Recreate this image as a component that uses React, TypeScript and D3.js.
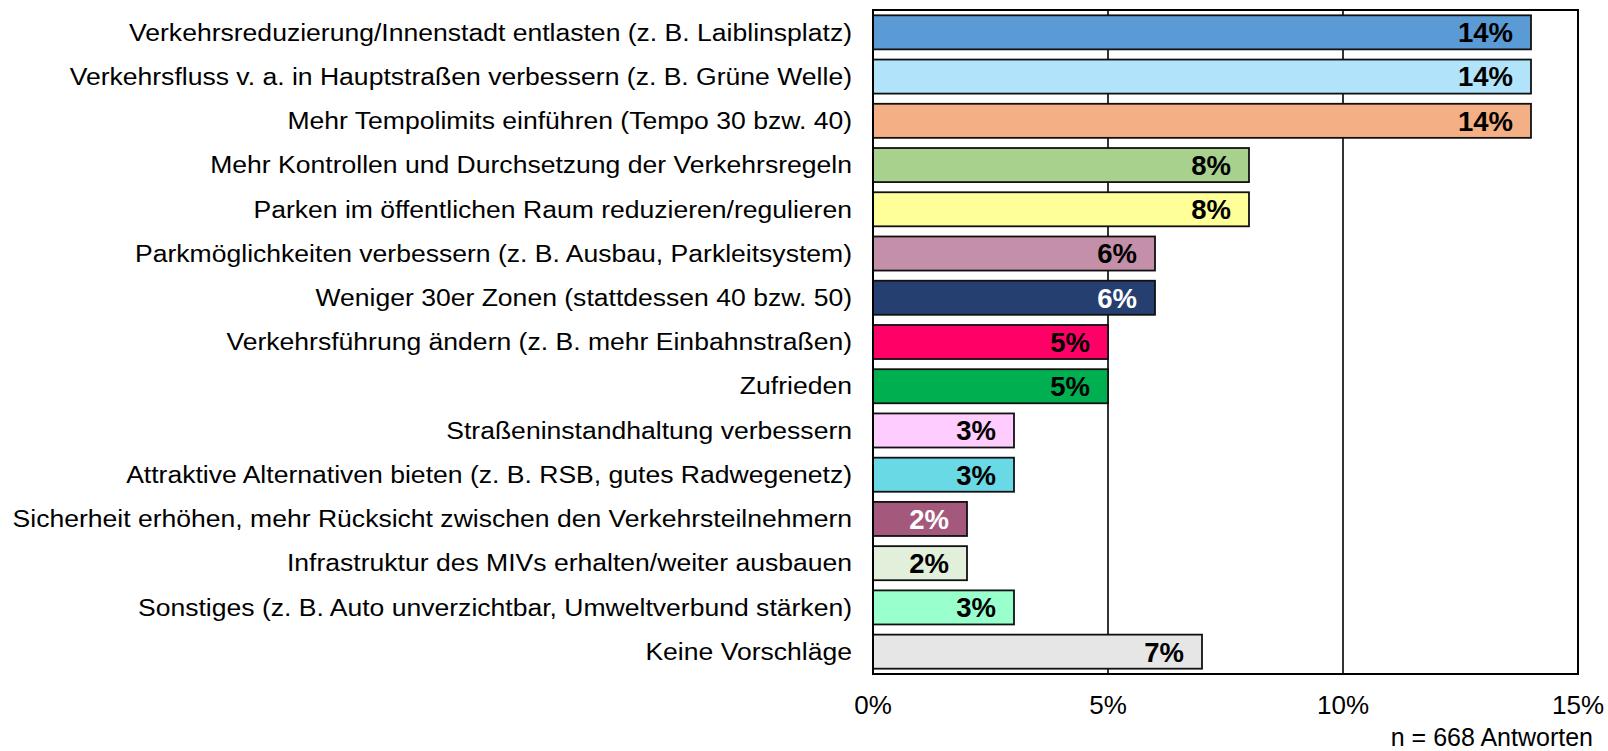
import React from 'react';
import * as d3 from 'd3';

// answers (percent of n = 668)
const categories = [
  'Verkehrsreduzierung/Innenstadt entlasten (z. B. Laiblinsplatz)',
  'Verkehrsfluss v. a. in Hauptstraßen verbessern (z. B. Grüne Welle)',
  'Mehr Tempolimits einführen (Tempo 30 bzw. 40)',
  'Mehr Kontrollen und Durchsetzung der Verkehrsregeln',
  'Parken im öffentlichen Raum reduzieren/regulieren',
  'Parkmöglichkeiten verbessern (z. B. Ausbau, Parkleitsystem)',
  'Weniger 30er Zonen (stattdessen 40 bzw. 50)',
  'Verkehrsführung ändern (z. B. mehr Einbahnstraßen)',
  'Zufrieden',
  'Straßeninstandhaltung verbessern',
  'Attraktive Alternativen bieten (z. B. RSB, gutes Radwegenetz)',
  'Sicherheit erhöhen, mehr Rücksicht zwischen den Verkehrsteilnehmern',
  'Infrastruktur des MIVs erhalten/weiter ausbauen',
  'Sonstiges (z. B. Auto unverzichtbar, Umweltverbund stärken)',
  'Keine Vorschläge',
];
const values = [14, 14, 14, 8, 8, 6, 6, 5, 5, 3, 3, 2, 2, 3, 7];
const barColors = [
  '#5B9BD5', '#B1E3FA', '#F4B084', '#A9D18E', '#FFFF99',
  '#C48FA9', '#243F70', '#FF0066', '#00B050', '#FFCCFF',
  '#6AD9E6', '#A3587C', '#E2EFDA', '#99FFCC', '#E6E6E6',
];
const whiteLabels = [6, 11];
const xTicks = [0, 5, 10, 15];
const note = 'n = 668 Antworten';

const W = 1608;
const H = 751;
const margin = { top: 10, right: 30, bottom: 77, left: 873 };

export default function App() {
  const x = d3.scaleLinear().domain([0, 15]).range([margin.left, W - margin.right]);
  const y = d3.scaleBand<string>()
    .domain(categories)
    .range([margin.top, H - margin.bottom])
    .paddingInner(0.23)
    .paddingOuter(0.12);
  const font = 'Arial, "Liberation Sans", sans-serif';
  const x0 = x(0);
  const top = margin.top;
  const bottom = H - margin.bottom;
  const mid = (c: string) => (y(c) ?? 0) + y.bandwidth() / 2;

  return (
    <svg width={W} height={H} style={{ position: 'fixed', left: 0, top: 0, background: '#fff' }}
      fontFamily={font}>
      {/* gridlines */}
      {xTicks.slice(1, -1).map(t => (
        <line key={t} x1={x(t)} x2={x(t)} y1={top} y2={bottom} stroke="#000" strokeWidth={1.6} />
      ))}
      {/* bars */}
      {categories.map((c, i) => (
        <g key={c}>
          <rect x={x0} y={y(c)} width={x(values[i]) - x0} height={y.bandwidth()}
            fill={barColors[i]} stroke="#111" strokeWidth={1.8} />
          <text x={x(values[i]) - 18} y={mid(c)} dy="0.36em"
            textAnchor="end" fontSize={27.5} fontWeight="bold"
            fill={whiteLabels.includes(i) ? '#fff' : '#000'}>
            {values[i]}%
          </text>
          {/* category labels are slightly stretched in the original */}
          <text transform={`translate(852,${mid(c)}) scale(1.13,1)`} dy="0.35em"
            textAnchor="end" fontSize={23.5} fill="#000">
            {c}
          </text>
        </g>
      ))}
      {/* plot frame */}
      <rect x={x0} y={top} width={x(15) - x0} height={bottom - top}
        fill="none" stroke="#000" strokeWidth={2} />
      {/* x tick labels */}
      {xTicks.map(t => (
        <text key={t} x={x(t)} y={714} textAnchor="middle" fontSize={26}>{t}%</text>
      ))}
      <text x={1593} y={746} textAnchor="end" fontSize={25}>{note}</text>
    </svg>
  );
}
